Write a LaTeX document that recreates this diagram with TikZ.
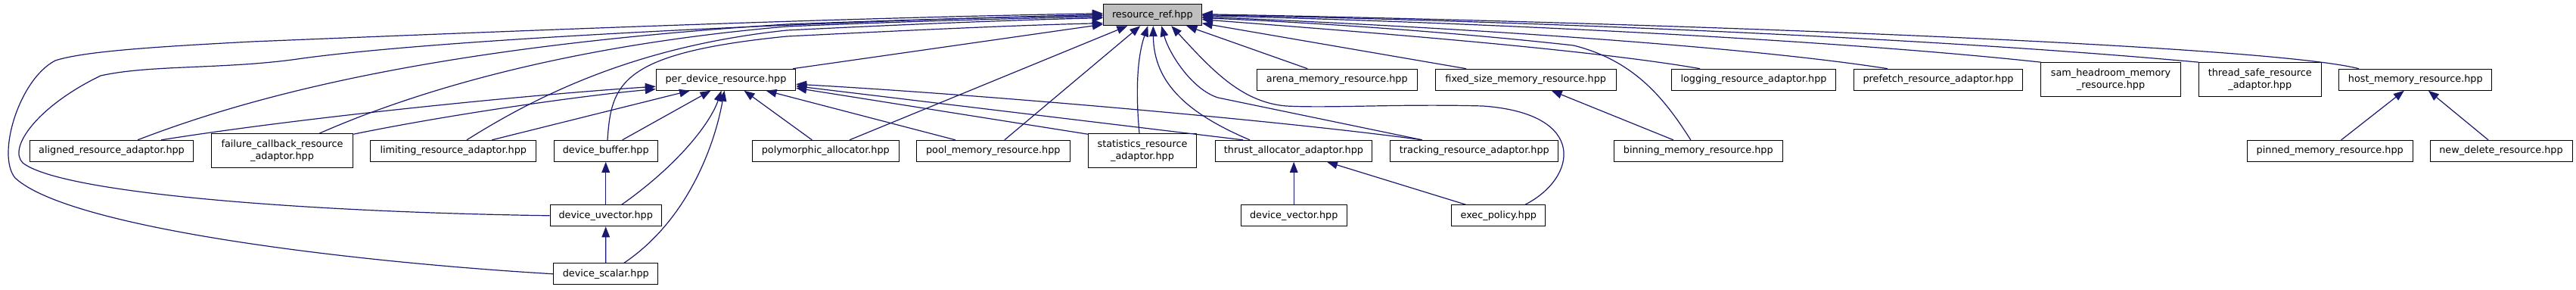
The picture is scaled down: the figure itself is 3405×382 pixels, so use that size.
\documentclass[tikz,border=0pt]{standalone}
\usepackage{fontspec}
\newfontfamily\dejavu{DejaVu Sans}
\usetikzlibrary{arrows.meta,calc}
\definecolor{edgeblue}{HTML}{191970}
\definecolor{rrgray}{HTML}{BFBFBF}
\begin{document}
\begin{tikzpicture}[x=0.5pt,y=-0.5pt,
  box/.style={draw=black,line width=0.5pt,fill=white,inner sep=0pt,minimum height=14pt,align=center,font=\dejavu\fontsize{6.4pt}{8.35pt}\selectfont},
  tall/.style={box,minimum height=22.5pt},
  edge/.style={draw=edgeblue,line width=0.6pt,-{Triangle[length=7pt,width=5.3pt]}}]
\useasboundingbox (0,0) rectangle (3405,382);
% nodes
\node[box,fill=rrgray,minimum width=65pt] (rr) at (1523.3,19.7) {resource\_ref.hpp};
\node[box,minimum width=92.2pt] (pd) at (959.5,105.2) {per\_device\_resource.hpp};
\node[box,minimum width=108.2pt] (aligned) at (147.5,199.3) {aligned\_resource\_adaptor.hpp};
\node[tall,minimum width=93.85pt] (failure) at (373,199.2) {failure\_callback\_resource\\\_adaptor.hpp};
\node[box,minimum width=109.35pt] (limiting) at (599.3,199.3) {limiting\_resource\_adaptor.hpp};
\node[box,minimum width=68.35pt] (dbuf) at (800.7,199.3) {device\_buffer.hpp};
\node[box,minimum width=73.65pt] (duvec) at (800.7,284.8) {device\_uvector.hpp};
\node[box,minimum width=68.85pt] (dscal) at (800.8,361.8) {device\_scalar.hpp};
\node[box,minimum width=97pt] (poly) at (1091.3,199.3) {polymorphic\_allocator.hpp};
\node[box,minimum width=101.5pt] (pool) at (1312.8,199.3) {pool\_memory\_resource.hpp};
\node[tall,minimum width=71.7pt] (stats) at (1510,199.2) {statistics\_resource\\\_adaptor.hpp};
\node[box,minimum width=103.7pt] (thrust) at (1710,199.3) {thrust\_allocator\_adaptor.hpp};
\node[box,minimum width=110.85pt] (tracking) at (1948.8,199.3) {tracking\_resource\_adaptor.hpp};
\node[box,minimum width=69.85pt] (dvec) at (1710.2,284.8) {device\_vector.hpp};
\node[box,minimum width=61.85pt] (exec) at (1980.8,284.8) {exec\_policy.hpp};
\node[box,minimum width=106pt] (arena) at (1767.3,105.2) {arena\_memory\_resource.hpp};
\node[box,minimum width=119.35pt] (fixed) at (2016.7,105.2) {fixed\_size\_memory\_resource.hpp};
\node[box,minimum width=108.3pt] (logging) at (2318,105.2) {logging\_resource\_adaptor.hpp};
\node[box,minimum width=111.3pt] (prefetch) at (2562,105.2) {prefetch\_resource\_adaptor.hpp};
\node[box,minimum width=111.5pt] (binning) at (2244.8,199.3) {binning\_memory\_resource.hpp};
\node[tall,minimum width=92.3pt] (sam) at (2790,105.2) {sam\_headroom\_memory\\\_resource.hpp};
\node[tall,minimum width=81pt] (thread) at (2987.3,105.2) {thread\_safe\_resource\\\_adaptor.hpp};
\node[box,minimum width=101.15pt] (host) at (3192.8,105.2) {host\_memory\_resource.hpp};
\node[box,minimum width=109.35pt] (pinned) at (3079.7,199.3) {pinned\_memory\_resource.hpp};
\node[box,minimum width=94pt] (newdel) at (3306,199.3) {new\_delete\_resource.hpp};
% edges into resource_ref from the left
\draw[edge] (dscal.west) .. controls (450,345) and (90,300) .. (20,235) .. controls (-5,205) and (25,105) .. (73,80) .. controls (110,68) and (200,62) .. (333,55) .. controls (700,40) and (1100,24) .. ($(rr.west)+(0,-2)$);
\draw[edge] (duvec.west) .. controls (400,280) and (80,255) .. (30,215) .. controls (10,195) and (50,140) .. (133,100) .. controls (200,85) and (300,92) .. (400,77) .. controls (600,50) and (1100,28) .. ($(rr.west)+(0,-0.5)$);
\draw[edge] ($(aligned.north)+(34.5,0)$) .. controls (350,120) and (600,60) .. (1040,32) .. controls (1200,26) and (1350,22) .. ($(rr.west)+(0,1)$);
\draw[edge] ($(failure.north)+(49,0)$) .. controls (550,120) and (750,60) .. (1040,35) .. controls (1200,28) and (1350,24) .. ($(rr.west)+(0,2.5)$);
\draw[edge] ($(limiting.north)+(17.7,0)$) .. controls (720,120) and (850,60) .. (1040,40) .. controls (1200,32) and (1350,26) .. ($(rr.west)+(0,4)$);
\draw[edge] ($(dbuf.north)+(2.3,0)$) .. controls (808,110) and (820,70) .. (1040,48) .. controls (1200,40) and (1350,33) .. ($(rr.west)+(0,11)$);
\draw[edge] ($(pd.north)+(88.5,0)$) -- ($(rr.west)+(0,12.5)$);
% edges into resource_ref from below
\draw[edge] ($(poly.north)+(31.7,0)$) -- ($(rr.south)+(-33,0)$);
\draw[edge] ($(pool.north)+(15,0)$) -- ($(rr.south)+(-16,0)$);
\draw[edge] ($(stats.north)+(-4,0)$) .. controls (1500,110) and (1505,70) .. ($(rr.south)+(-6,0)$);
\draw[edge] ($(thrust.north)+(-58,0)$) .. controls (1570,150) and (1525,110) .. ($(rr.south)+(1,0)$);
\draw[edge] ($(tracking.north)+(-69,0)$) -- (1610,129) .. controls (1575,118) and (1545,70) .. ($(rr.south)+(12,0)$);
\draw[edge] ($(exec.north)+(35,0)$) .. controls (2085,235) and (2100,150) .. (1960,140) .. controls (1850,137) and (1760,143) .. (1700,140) .. controls (1640,135) and (1600,90) .. ($(rr.south)+(25,0)$);
\draw[edge] ($(arena.north)+(-39,0)$) -- ($(rr.south)+(45,0)$);
% edges into resource_ref from the right
\draw[edge] ($(fixed.north)+(-78.7,0)$) -- ($(rr.east)+(0,11)$);
\draw[edge] ($(logging.north)+(-71,0)$) .. controls (2100,65) and (1800,42) .. ($(rr.east)+(0,6)$);
\draw[edge] ($(prefetch.north)+(-67,0)$) .. controls (2300,60) and (1900,35) .. ($(rr.east)+(0,2.5)$);
\draw[edge] ($(binning.north)+(-10,0)$) .. controls (2200,130) and (2160,80) .. (2080,60) .. controls (1900,40) and (1700,28) .. ($(rr.east)+(0,4)$);
\draw[edge] ($(sam.north)+(-92,0)$) .. controls (2400,50) and (1900,28) .. ($(rr.east)+(0,1)$);
\draw[edge] ($(thread.north)+(-81,0)$) .. controls (2500,45) and (1900,25) .. (rr.east);
\draw[edge] ($(host.north)+(-75,0)$) .. controls (3000,60) and (2200,30) .. ($(rr.east)+(0,-1)$);
% edges into per_device_resource
\draw[edge] ($(aligned.north)+(65.7,0)$) .. controls (400,155) and (700,125) .. ($(pd.west)+(0,9)$);
\draw[edge] ($(failure.north east)+(0,1)$) .. controls (600,150) and (780,125) .. ($(pd.west)+(0,12.5)$);
\draw[edge] ($(limiting.north)+(51,0)$) -- ($(pd.south)+(-47.5,0)$);
\draw[edge] ($(dbuf.north)+(22,0)$) -- ($(pd.south)+(-20,0)$);
\draw[edge] ($(duvec.north)+(21,0)$) .. controls (900,215) and (940,160) .. ($(pd.south)+(-6,0)$);
\draw[edge] ($(dscal.north)+(24,0)$) .. controls (910,290) and (945,190) .. ($(pd.south)+(-2,0)$);
\draw[edge] ($(poly.north)+(-18,0)$) -- ($(pd.south)+(24,0)$);
\draw[edge] ($(pool.north)+(-50,0)$) -- ($(pd.south)+(53,0)$);
\draw[edge] ($(stats.north west)+(0,1)$) -- ($(pd.east)+(0,11)$);
\draw[edge] ($(thrust.north)+(-67,0)$) -- ($(pd.east)+(0,8.5)$);
\draw[edge] ($(tracking.north)+(-69,0)$) .. controls (1700,160) and (1300,125) .. ($(pd.east)+(0,6)$);
% other edges
\draw[edge] (duvec.north) -- (dbuf.south);
\draw[edge] (dscal.north) -- (duvec.south);
\draw[edge] (dvec.north) -- (dvec.north |- thrust.south);
\draw[edge] ($(exec.north)+(-43,0)$) -- ($(thrust.south)+(44,0)$);
\draw[edge] ($(binning.north)+(-33,0)$) -- ($(fixed.south)+(34,0)$);
\draw[edge] ($(pinned.north)+(15,0)$) -- ($(host.south)+(-15,0)$);
\draw[edge] ($(newdel.north)+(-17,0)$) -- ($(host.south)+(17,0)$);
\end{tikzpicture}
\end{document}
